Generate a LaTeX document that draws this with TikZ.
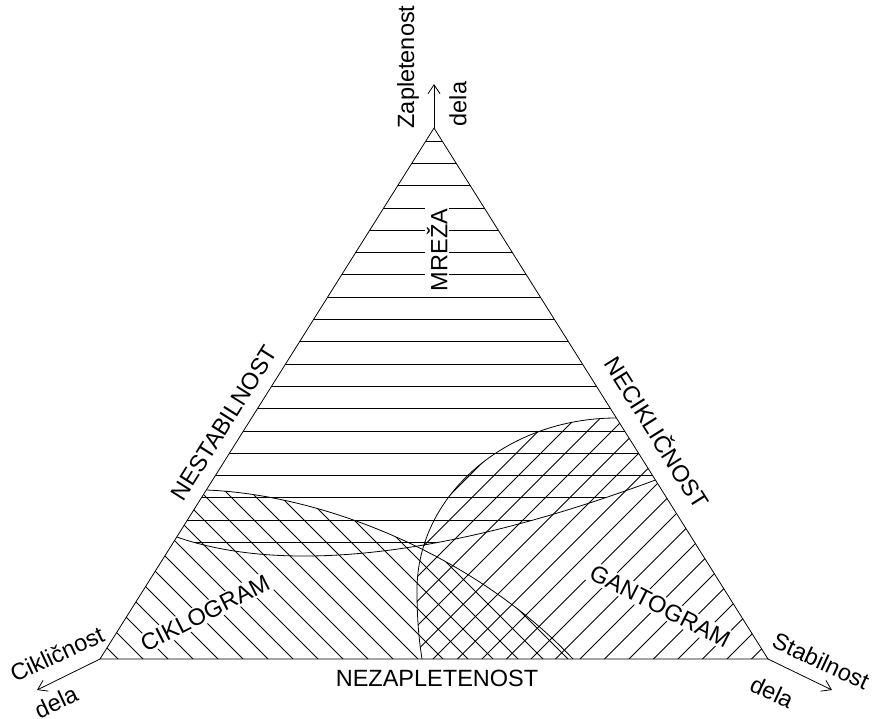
\documentclass[tikz,border=0pt]{standalone}
\usepackage{fontspec}
\setmainfont{Liberation Sans}
\usetikzlibrary{arrows.meta,calc}
\begin{document}
\begin{tikzpicture}[x=1pt,y=-1pt,
  lbl/.style={font=\fontsize{23.5}{27}\selectfont, inner sep=1pt},
  wlbl/.style={lbl, fill=white, inner sep=2pt},
  thinline/.style={line width=0.8pt},
  arr/.style={line width=0.8pt, -{Straight Barb[length=9pt,width=12pt]}}
]
\useasboundingbox (0,0) rectangle (872,718);
\coordinate (A) at (434,128);
\coordinate (L) at (100,659);
\coordinate (R) at (768,659);
\coordinate (ML) at ($(A)!0.7702!(L)$);
\coordinate (MR) at ($(A)!0.6629!(R)$);
\coordinate (CT) at ($(A)!0.6817!(L)$);
\coordinate (CB) at (573,659);
\coordinate (GT) at ($(A)!0.5461!(R)$);
\coordinate (GM) at (417,590);
\coordinate (GB) at (422,659);
\coordinate (AT) at (434,84);
\coordinate (LT) at (37,690);
\coordinate (RT) at (832,690);

% MREZA hatching
\begin{scope}
\clip (A) -- (ML) .. controls (280,573) and (440,560) .. (MR) -- cycle;
\foreach \k in {0,...,18} \draw[thinline] (0,{141+22.3*\k}) -- (872,{141+22.3*\k});
\end{scope}
% CIKLOGRAM hatching
\begin{scope}
\clip (L) -- (CT) .. controls (330,495) and (480,560) .. (CB) -- cycle;
\foreach \k in {-9,...,12} \draw[thinline] ({293+25*\k-700},-41) -- ({293+25*\k},659);
\end{scope}
% GANTOGRAM hatching
\begin{scope}
\clip (GT) .. controls (506.6,418) and (417,495) .. (GM) .. controls (417,620) and (419,640) .. (GB) -- (R) -- cycle;
\foreach \k in {-13,...,8} \draw[thinline] ({580+24.5*\k},659) -- ({580+24.5*\k+700},-41);
\end{scope}

% region boundaries
\draw[thinline] (ML) .. controls (280,573) and (440,560) .. (MR);
\draw[thinline] (CT) .. controls (330,495) and (480,560) .. (CB);
\draw[thinline] (GT) .. controls (506.6,418) and (417,495) .. (GM) .. controls (417,620) and (419,640) .. (GB);
\draw[thinline] (A) -- (L) -- (R) -- cycle;

% axes
\draw[arr] (A) -- (AT);
\draw[arr] (L) -- (LT);
\draw[arr] (R) -- (RT);

% labels
\node[lbl, rotate=90] (zap) at (408,67) {Zapletenost};
\node[lbl, rotate=90] (dtop) at (458,104) {dela};
\node[wlbl, rotate=90] (mreza) at (437,250) {MREŽA};
\node[lbl, rotate=57.8] (nestab) at (224,423) {NESTABILNOST};
\node[lbl, rotate=-57.8] (necikl) at (658,432) {NECIKLIČNOST};
\node[wlbl, rotate=27] (cikl) at (205,613) {CIKLOGRAM};
\node[wlbl, rotate=-27] (gant) at (660,606) {GANTOGRAM};
\node[lbl] (nezap) at (437,678) {NEZAPLETENOST};
\node[lbl, rotate=25] (ciklic) at (57,654) {Cikličnost};
\node[lbl, rotate=25] (dl) at (56,702) {dela};
\node[lbl, rotate=-25] (stab) at (821,661) {Stabilnost};
\node[lbl, rotate=-25] (dr) at (772,692) {dela};
\end{tikzpicture}
\end{document}
